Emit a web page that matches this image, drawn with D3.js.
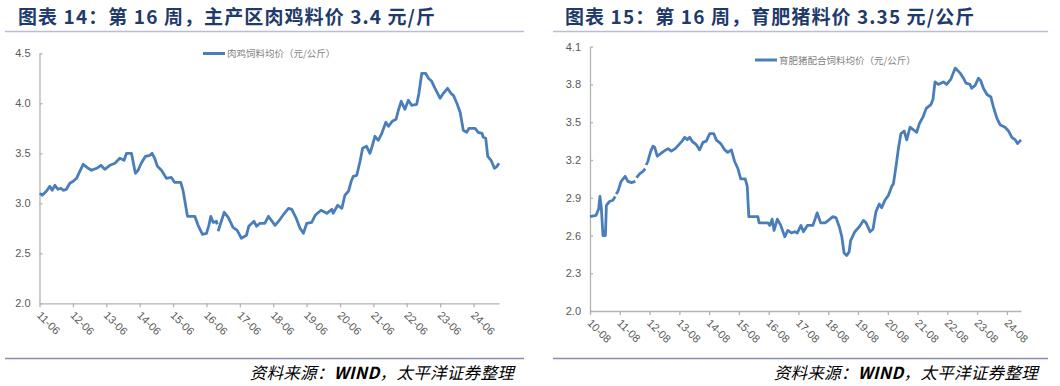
<!DOCTYPE html>
<html>
<head>
<meta charset="utf-8">
<script src="https://cdn.jsdelivr.net/npm/d3@7"></script>
<style>
  body { margin: 0; background: #fff; }
  .tick text { font-family: "Liberation Sans Narrow", "Arial Narrow", "Liberation Sans", sans-serif; }
  .cjk { font-family: "Noto Sans CJK SC", sans-serif; }
</style>
</head>
<body>
<svg id="chart" width="1060" height="386"></svg>
<script>
// ---- data ----
var chickenTitle = "图表 14：第 16 周，主产区肉鸡料价 3.4 元/斤";
var chickenSeries = "肉鸡饲料均价（元/公斤）";
var chickenTicks = ["11-06","12-06","13-06","14-06","15-06","16-06","17-06","18-06","19-06","20-06","21-06","22-06","23-06","24-06"];
var chickenYTicks = [2.0, 2.5, 3.0, 3.5, 4.0, 4.5];
var chickenDates = [
  "2011-06-05","2011-07-01","2011-08-15","2011-09-22","2011-10-17","2011-11-16","2011-12-21",
  "2012-01-21","2012-02-15","2012-03-21","2012-04-28","2012-06-04","2012-07-10","2012-08-15","2012-09-21","2012-11-15","2012-12-21",
  "2013-02-15","2013-04-03","2013-05-15","2013-07-10","2013-09-03","2013-10-27","2013-12-12",
  "2014-01-08","2014-03-03","2014-04-15","2014-05-15","2014-06-18","2014-08-03","2014-09-21","2014-10-15","2014-11-12","2014-12-12",
  "2015-01-25","2015-03-20","2015-05-12","2015-06-18","2015-08-24","2015-09-18","2015-11-06",
  "2016-01-25","2016-03-01","2016-04-18","2016-06-01","2016-06-27","2016-07-18","2016-08-12","2016-09-18","2016-09-27","2016-10-01","2016-10-06","2016-12-12",
  "2017-01-25","2017-03-18","2017-05-03","2017-06-18","2017-08-12","2017-09-06","2017-11-03","2017-12-01",
  "2018-01-06","2018-03-01","2018-04-09","2018-06-21","2018-08-15","2018-10-01","2018-11-15","2018-12-21",
  "2019-02-03","2019-03-21","2019-04-27","2019-06-03","2019-07-27","2019-09-03","2019-11-06",
  "2020-01-09","2020-03-03","2020-03-18","2020-05-06","2020-06-21","2020-07-24","2020-09-01","2020-10-01","2020-10-24","2020-12-01",
  "2021-01-06","2021-02-03","2021-03-18","2021-04-24","2021-05-12","2021-06-18","2021-07-24","2021-09-01","2021-10-15","2021-11-12","2021-12-24",
  "2022-02-03","2022-03-01","2022-04-01","2022-05-12","2022-06-18","2022-07-24","2022-09-18","2022-10-12","2022-11-12","2022-12-24",
  "2023-01-24","2023-03-01","2023-04-06","2023-06-01","2023-07-06","2023-08-21","2023-09-27","2023-10-24","2023-12-01",
  "2024-01-06","2024-02-09","2024-03-18","2024-04-12","2024-06-18","2024-07-21","2024-09-01","2024-09-15","2024-10-12","2024-11-03","2024-12-09",
  "2025-01-15","2025-02-12","2025-03-06"
];
var chickenValues = [
  3.10,3.08,3.12,3.17,3.13,3.18,3.14,
  3.15,3.13,3.14,3.20,3.22,3.25,3.32,3.39,3.35,3.33,
  3.35,3.38,3.34,3.38,3.40,3.45,3.43,
  3.50,3.50,3.30,3.33,3.40,3.47,3.48,3.50,3.45,3.37,
  3.33,3.25,3.26,3.21,3.21,3.13,2.87,
  2.87,2.78,2.69,2.70,2.78,2.87,2.81,2.82,2.79,null,2.72,2.91,
  2.86,2.76,2.73,2.65,2.68,2.77,2.82,2.77,
  2.80,2.80,2.87,2.78,2.84,2.90,2.95,2.94,
  2.86,2.75,2.70,2.80,2.81,2.88,2.93,
  2.90,2.94,2.90,2.98,2.95,3.08,3.12,3.22,3.27,3.28,
  3.42,3.55,3.57,3.50,3.55,3.67,3.63,3.70,3.81,3.77,3.82,
  3.84,3.93,4.02,3.94,4.03,3.98,3.99,4.10,4.30,4.30,
  4.25,4.22,4.15,4.05,4.10,4.15,4.10,4.08,4.00,
  3.91,3.73,3.71,3.75,3.75,3.71,3.70,3.66,3.65,3.47,3.43,
  3.35,3.37,3.40
];

var hogTitle = "图表 15：第 16 周，育肥猪料价 3.35 元/公斤";
var hogSeries = "育肥猪配合饲料均价（元/公斤）";
var hogTicks = ["10-08","11-08","12-08","13-08","14-08","15-08","16-08","17-08","18-08","19-08","20-08","21-08","22-08","23-08","24-08"];
var hogYTicks = [2.0, 2.3, 2.6, 2.9, 3.2, 3.5, 3.8, 4.1];
var hogDates = [
  "2010-08-01","2010-10-15","2010-11-15","2010-12-01","2010-12-18",
  "2011-01-07","2011-02-06","2011-02-18","2011-03-28","2011-05-09","2011-06-06","2011-06-12","2011-06-18","2011-07-09","2011-08-18","2011-10-06","2011-11-09","2011-12-21",
  "2012-02-09","2012-02-15","2012-02-22","2012-04-01","2012-05-12","2012-06-09","2012-06-14","2012-06-20","2012-07-12","2012-08-15","2012-09-12","2012-10-03","2012-11-03","2012-12-15",
  "2013-01-24","2013-03-15","2013-04-24","2013-06-12","2013-07-24","2013-09-03","2013-10-06","2013-11-06","2013-12-06",
  "2014-01-03","2014-02-27","2014-04-06","2014-05-18","2014-06-27","2014-08-09","2014-09-27","2014-10-27","2014-12-21",
  "2015-02-09","2015-03-18","2015-05-01","2015-06-09","2015-07-21","2015-08-24","2015-10-18","2015-11-12","2015-12-01",
  "2016-03-21","2016-04-06","2016-07-24","2016-08-15","2016-09-12","2016-10-06","2016-11-15","2016-12-27",
  "2017-02-15","2017-03-24","2017-05-06","2017-06-15","2017-07-18","2017-09-01","2017-10-01","2017-11-18",
  "2018-01-24","2018-02-21","2018-03-18","2018-05-01","2018-06-24","2018-08-03","2018-09-27","2018-11-06","2018-12-15",
  "2019-01-15","2019-02-12","2019-03-15","2019-04-15","2019-05-03","2019-06-24","2019-08-18","2019-10-06","2019-11-09","2019-12-27",
  "2020-02-01","2020-03-09","2020-04-18","2020-05-18","2020-06-27","2020-08-09","2020-09-18","2020-10-09","2020-11-12","2020-12-09",
  "2021-01-09","2021-02-18","2021-03-21","2021-05-01","2021-06-12","2021-07-21","2021-08-24","2021-10-06","2021-11-15",
  "2022-01-12","2022-02-06","2022-03-03","2022-04-12","2022-06-15","2022-07-24","2022-09-12","2022-11-06",
  "2023-01-06","2023-02-15","2023-03-18","2023-05-06","2023-05-27","2023-07-06","2023-08-18","2023-09-15","2023-10-18","2023-12-01",
  "2024-01-18","2024-02-18","2024-04-01","2024-05-09","2024-07-09","2024-08-21","2024-10-01","2024-11-12","2024-12-09",
  "2025-01-21"
];
var hogValues = [
  2.75,2.76,2.81,2.91,2.82,
  2.60,2.60,2.84,2.87,2.88,2.91,null,2.93,2.95,3.03,3.07,3.03,3.02,
  3.03,null,3.06,3.09,3.11,3.13,null,3.16,3.19,3.27,3.31,3.30,3.23,3.25,
  3.27,3.29,3.27,3.29,3.32,3.35,3.38,3.36,3.38,
  3.35,3.32,3.28,3.34,3.35,3.41,3.41,3.36,3.33,
  3.28,3.26,3.28,3.19,3.13,3.05,3.05,2.99,2.75,
  2.75,2.70,2.70,2.68,2.73,2.64,2.73,2.68,
  2.59,2.64,2.62,2.63,2.62,2.68,2.63,2.68,
  2.68,2.73,2.78,2.70,2.70,2.72,2.75,2.74,2.67,
  2.59,2.46,2.44,2.47,2.56,2.63,2.67,2.72,2.70,2.63,
  2.65,2.79,2.85,2.82,2.88,2.92,2.99,3.01,3.16,3.29,
  3.41,3.43,3.36,3.46,3.44,3.42,3.49,3.54,3.61,
  3.64,3.68,3.82,3.80,3.82,3.80,3.84,3.93,
  3.89,3.85,3.81,3.80,3.77,3.79,3.85,3.83,3.77,3.72,
  3.70,3.62,3.53,3.48,3.46,3.43,3.38,3.36,3.33,
  3.36
];

var sourceText = ["资料来源：", "WIND", "，太平洋证券整理"];

var FeedChart = {
    svg: null,
    lineColor: "#4a7ebb",
    axisColor: "#b3b3b3",
    labelColor: "#595959",
    titleColor: "#1f3b6b",
    parseDay: d3.timeParse("%Y-%m-%d"),
    parseTick: d3.timeParse("%y-%m"),
    init: function () {
        this.svg = d3.select("#chart");
        this.svg.append("rect").attr("width", 1060).attr("height", 386).attr("fill", "#fff");
        return this;
    },
    drawPanel: function (p) {
        var self = this;
        var g = this.svg.append("g");
        var rows = p.dates.map(function (d, i) {
            return { date: self.parseDay(d), value: p.values[i] };
        });
        var tickDates = p.ticks.map(function (t) { return self.parseTick(t); });

        var x = d3.scaleTime()
                  .domain([tickDates[0], rows[rows.length - 1].date])
                  .range([p.left, p.right]);
        var y = d3.scaleLinear()
                  .domain([p.yTicks[0], p.yTicks[p.yTicks.length - 1]])
                  .range([p.bottom, p.top]);

        // title + rules
        g.append("text")
            .attr("class", "cjk")
            .attr("x", p.titleX).attr("y", 24)
            .attr("font-size", 19).attr("font-weight", "bold")
            .attr("letter-spacing", 1.1)
            .attr("fill", this.titleColor)
            .text(p.title);
        g.append("line")
            .attr("x1", p.ruleLeft).attr("x2", p.ruleRight)
            .attr("y1", 31.5).attr("y2", 31.5)
            .attr("stroke", "#bcbcd8").attr("stroke-width", 1.5);
        g.append("line")
            .attr("x1", p.ruleLeft).attr("x2", p.ruleRight)
            .attr("y1", 358.5).attr("y2", 358.5)
            .attr("stroke", "#8c8cb4").attr("stroke-width", 1.5);

        // axes
        var xAxis = g.append("g")
            .attr("transform", "translate(0," + p.bottom + ")")
            .call(d3.axisBottom(x)
                    .tickValues(tickDates)
                    .tickSizeInner(4).tickSizeOuter(0)
                    .tickFormat(d3.timeFormat("%y-%m")));
        xAxis.selectAll("text")
            .attr("x", 0).attr("y", 0).attr("dy", "0.35em")
            .attr("transform", "translate(-1,10) rotate(45)")
            .style("text-anchor", "start")
            .attr("font-size", 11)
            .attr("fill", this.labelColor);

        var yAxis = g.append("g")
            .attr("transform", "translate(" + p.left + ",0)")
            .call(d3.axisLeft(y)
                    .tickValues(p.yTicks)
                    .tickSizeInner(-3).tickSizeOuter(0)
                    .tickPadding(9)
                    .tickFormat(d3.format(".1f")));
        yAxis.selectAll("text").attr("font-size", 11).attr("fill", this.labelColor);

        g.selectAll(".domain, .tick line").attr("stroke", this.axisColor).attr("stroke-width", 1.3);

        // series
        var line = d3.line()
            .defined(function (d) { return d.value != null; })
            .x(function (d) { return x(d.date); })
            .y(function (d) { return y(d.value); });
        g.append("path")
            .datum(rows)
            .attr("d", line)
            .attr("fill", "none")
            .attr("stroke", this.lineColor)
            .attr("stroke-width", 2.8)
            .attr("stroke-linejoin", "round");

        // legend
        g.append("line")
            .attr("x1", p.legendX).attr("x2", p.legendX + 22)
            .attr("y1", p.legendY).attr("y2", p.legendY)
            .attr("stroke", this.lineColor).attr("stroke-width", 3);
        g.append("text")
            .attr("class", "cjk")
            .attr("x", p.legendX + 24).attr("y", p.legendY + 3.5)
            .attr("font-size", 9.5)
            .attr("fill", "#7f7f7f")
            .text(p.series);

        // source
        var src = g.append("text")
            .attr("class", "cjk")
            .attr("x", p.sourceRight).attr("y", 379)
            .attr("text-anchor", "end")
            .attr("font-size", 16.5)
            .attr("font-style", "italic")
            .attr("letter-spacing", 0.3)
            .attr("fill", "#000");
        sourceText.forEach(function (s, i) {
            src.append("tspan").attr("font-weight", i == 1 ? "bold" : "normal").text(s);
        });
    }
};

FeedChart.init();
FeedChart.drawPanel({
    title: chickenTitle, series: chickenSeries,
    dates: chickenDates, values: chickenValues,
    ticks: chickenTicks, yTicks: chickenYTicks,
    left: 39.5, right: 499, top: 53.3, bottom: 303.3,
    titleX: 18, ruleLeft: 5, ruleRight: 524,
    legendX: 203, legendY: 53.5, sourceRight: 514
});
FeedChart.drawPanel({
    title: hogTitle, series: hogSeries,
    dates: hogDates, values: hogValues,
    ticks: hogTicks, yTicks: hogYTicks,
    left: 590, right: 1021, top: 46.7, bottom: 311,
    titleX: 565, ruleLeft: 553, ruleRight: 1048,
    legendX: 755, legendY: 60, sourceRight: 1038
});
</script>
</body>
</html>
